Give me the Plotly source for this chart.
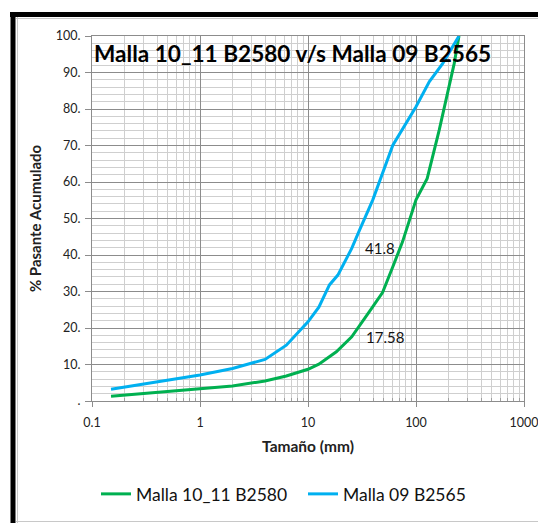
import math
import plotly.graph_objects as go

# ---- data ----
size_blue = [0.15, 1.0, 2.0, 4.0, 6.3, 10, 12.6, 15.8, 18.9, 25.4, 30, 39.8, 61, 100, 133, 177, 250]
pass_blue = [3.2, 7.1, 8.9, 11.4, 15.3, 21.7, 25.7, 31.8, 34.5, 41.8, 46.8, 55.1, 70.1, 80.6, 87.5, 92.5, 100]

size_green = [0.15, 1.0, 2.0, 4.0, 6.3, 10, 12.6, 18.3, 25.4, 37, 49, 61, 75, 100, 127, 164, 226, 250]
pass_green = [1.3, 3.2, 4.1, 5.5, 6.85, 8.7, 10.1, 13.5, 17.58, 24.5, 29.7, 36.8, 43.6, 55.1, 61.0, 74.2, 92.5, 100]

name_green = "Malla 10_11 B2580"
name_blue = "Malla 09 B2565"
title_text = "Malla 10_11 B2580 v/s Malla 09 B2565"

x_tickvals = [0.1, 1, 10, 100, 1000]
x_ticktext = ["0.1", "1", "10", "100", "1000"]
y_tickvals = [0, 10, 20, 30, 40, 50, 60, 70, 80, 90, 100]
y_ticktext = [".", "10.", "20.", "30.", "40.", "50.", "60.", "70.", "80.", "90.", "100."]

label_x = 25.4
label_blue = 41.8
label_green = 17.58

GREEN = "#00b050"
BLUE = "#00b0f0"
FONT = "Lato"

minor_x = [m * 10.0 ** e for e in range(-1, 3) for m in range(2, 10)]

fig = go.Figure()
fig.add_trace(go.Scatter(x=size_green, y=pass_green, mode="lines", name=name_green,
                         line=dict(color=GREEN, width=3)))
fig.add_trace(go.Scatter(x=size_blue, y=pass_blue, mode="lines", name=name_blue,
                         line=dict(color=BLUE, width=3)))

# page body has an 8px default margin: build the figure shifted by it
OFF = 8
W, H = 546 - OFF, 523 - OFF
PL, PR, PT, PB = 92, 524, 36, 401  # plot area in reference pixels
L, T = PL - OFF, PT - OFF
R, B = W - (PR - OFF), H - (PB - OFF)
pw, ph = PR - PL, PB - PT


def px(xp):
    return (xp - PL) / pw


def py(yp):
    return (PB - yp) / ph


fig.update_layout(
    width=W, height=H,
    margin=dict(l=L, r=R, t=T, b=B, autoexpand=False),
    paper_bgcolor="white", plot_bgcolor="white",
    font=dict(family=FONT, color="#222222", size=13),
    showlegend=True,
    legend=dict(orientation="h", x=px(96), xanchor="left", y=py(494), yanchor="middle",
                font=dict(family=FONT, size=17.5, color="#111111"),
                entrywidth=162, entrywidthmode="pixels",
                tracegroupgap=0, bgcolor="rgba(0,0,0,0)"),
)

fig.update_xaxes(
    type="log", range=[-1, 3],
    tickvals=x_tickvals, ticktext=x_ticktext,
    tickfont=dict(size=12.5, color="#222222"),
    ticklabelstandoff=5,
    showgrid=True, gridcolor="#8c8c8c", gridwidth=1,
    showline=True, linecolor="#8c8c8c", linewidth=1, mirror=True,
    ticks="outside", ticklen=5, tickcolor="#8c8c8c",
    minor=dict(tickvals=minor_x, showgrid=True, gridcolor="#cfcfcf", gridwidth=1,
               ticks="inside", ticklen=3, tickcolor="#a0a0a0"),
    title=dict(text="<b>Tamaño (mm)</b>", font=dict(size=15.5, color="#222222"), standoff=12),
    zeroline=False,
)
fig.update_yaxes(
    range=[0, 100],
    tickvals=y_tickvals, ticktext=y_ticktext,
    tickfont=dict(size=12.5, color="#222222"),
    ticklabelstandoff=2,
    showgrid=True, gridcolor="#8c8c8c", gridwidth=1,
    showline=True, linecolor="#8c8c8c", linewidth=1, mirror=True,
    ticks="outside", ticklen=6, tickcolor="#8c8c8c",
    minor=dict(dtick=2, showgrid=True, gridcolor="#cfcfcf", gridwidth=1),
    title=dict(text="<b>% Pasante Acumulado</b>", font=dict(size=15, color="#222222"), standoff=10),
    zeroline=False,
)

# chart title inside the plot area
fig.add_annotation(text=title_text, xref="paper", yref="paper", x=px(92), y=py(53),
                   xanchor="left", yanchor="middle", showarrow=False,
                   font=dict(family=FONT, size=22.6, color="#000000", weight="bold"))

# data labels
fig.add_annotation(text=str(label_blue), x=math.log10(label_x), y=label_blue,
                   xref="x", yref="y", xanchor="left", yanchor="middle", xshift=11,
                   showarrow=False, font=dict(family=FONT, size=15, color="#111111"))
fig.add_annotation(text=str(label_green), x=math.log10(label_x), y=label_green,
                   xref="x", yref="y", xanchor="left", yanchor="middle", xshift=12,
                   showarrow=False, font=dict(family=FONT, size=15, color="#111111"))

# outer frame
shapes = [
    dict(type="line", xref="paper", yref="paper", x0=px(10), x1=px(560), y0=py(14.5), y1=py(14.5),
         line=dict(color="black", width=5)),
    dict(type="line", xref="paper", yref="paper", x0=px(13), x1=px(13), y0=py(12), y1=py(540),
         line=dict(color="black", width=5)),
    dict(type="line", xref="paper", yref="paper", x0=px(16), x1=px(560), y0=py(18.5), y1=py(18.5),
         line=dict(color="#c8c8c8", width=1)),
    dict(type="line", xref="paper", yref="paper", x0=px(17.5), x1=px(17.5), y0=py(17), y1=py(540),
         line=dict(color="#c8c8c8", width=1)),
    dict(type="line", xref="paper", yref="paper", x0=px(16), x1=px(560), y0=py(521.5), y1=py(521.5),
         line=dict(color="#c8c8c8", width=1)),
]
fig.update_layout(shapes=shapes)

fig.write_html("out.html")
